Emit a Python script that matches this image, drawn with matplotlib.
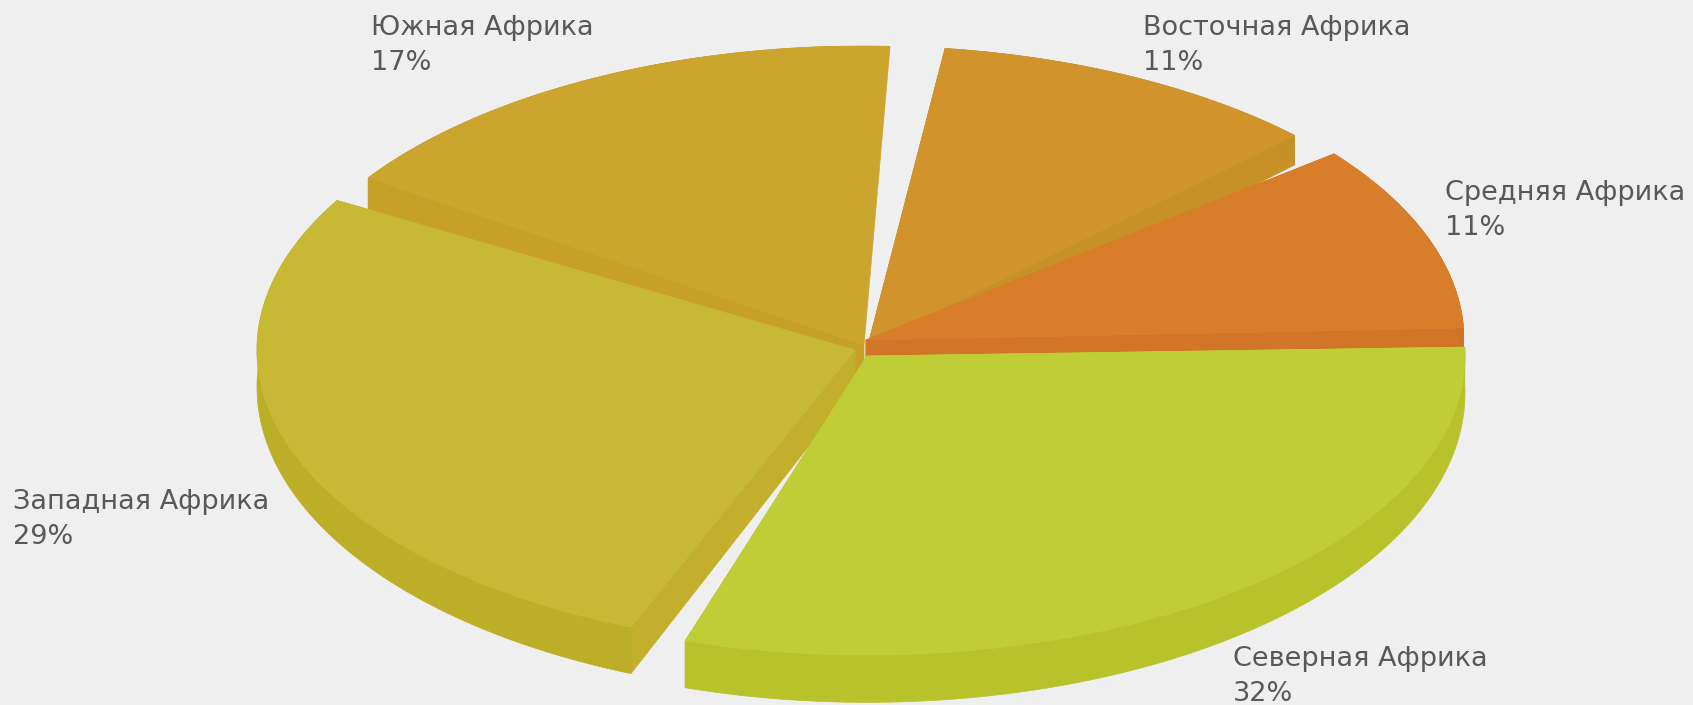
# -*- coding: utf-8 -*-
"""Африка по регионам — объёмная круговая диаграмма."""

import numpy as np
import matplotlib
matplotlib.use("Agg")
import matplotlib.pyplot as plt
from matplotlib.patches import Polygon

# draw order: back to front
regions = ["Южная Африка", "Восточная Африка", "Средняя Африка", "Западная Африка", "Северная Африка"]
percents = [17, 11, 11, 29, 32]
# slice spans as they appear in the picture (deg, clockwise from east)
span_start = [214.0, 277.4, 321.5, 112.0, -1.7]
span_end = [272.5, 315.5, 357.7, 210.0, 107.7]

top_colors = ["#CCA52E", "#D1942C", "#D87E2A", "#C7B934", "#BFCE37"]
arc_colors = ["#C3A027", "#C59127", "#CE7327", "#BDAE27", "#B8C22B"]
side_colors = ["#C6A029", "#C89127", "#D27526", "#C3AF2B", "#BAC52E"]

centers_x = [864, 868, 866, 855, 867]
centers_y = [345, 345, 340, 350, 356]
label_x = [371, 1143, 1445, 13, 1233]
label_y = [28, 28, 193, 502, 659]
# the south slice shows no wall along its right edge
end_wall = [False, True, True, True, True]

W, H = 1693, 705
RX, RY = 598, 299
BG = "#EFEFEF"
TEXT = "#585858"


def depth(y):
    # the back of the pie is further away, so its wall looks thinner
    return 30 + (y - 150) * 16.5 / 480.0


def down(pts):
    return np.column_stack([pts[:, 0], pts[:, 1] + depth(pts[:, 1])])


fig = plt.figure(figsize=(W / 100, H / 100), dpi=100, facecolor=BG)
ax = fig.add_axes([0, 0, 1, 1])
ax.set_xlim(0, W)
ax.set_ylim(H, 0)
ax.axis("off")

for i in range(len(regions)):
    deg = np.linspace(span_start[i], span_end[i], 120)
    t = np.radians(deg)
    arc = np.column_stack([centers_x[i] + RX * np.cos(t), centers_y[i] + RY * np.sin(t)])
    apex = np.array([[centers_x[i], centers_y[i]]], dtype=float)

    tips = [arc[:1], arc[-1:]] if end_wall[i] else [arc[:1]]
    for tip in tips:
        quad = np.vstack([apex, tip, down(tip), down(apex)])
        ax.add_patch(Polygon(quad, fc=side_colors[i], ec=side_colors[i], lw=0.5))
    # past the top of the ellipse the wall would stick out beside the slice
    wall_arc = arc if end_wall[i] else arc[deg <= 268]
    wall = np.vstack([wall_arc, down(wall_arc)[::-1]])
    ax.add_patch(Polygon(wall, fc=arc_colors[i], ec=arc_colors[i], lw=0.5))
    ax.add_patch(Polygon(np.vstack([apex, arc]), fc=top_colors[i], ec=top_colors[i], lw=0.5))

    ax.text(label_x[i], label_y[i], regions[i], fontsize=19.5, color=TEXT, va="center", ha="left")
    ax.text(label_x[i], label_y[i] + 35, f"{percents[i]}%", fontsize=19.5, color=TEXT, va="center", ha="left")

fig.savefig("out.png", dpi=100, facecolor=BG)
